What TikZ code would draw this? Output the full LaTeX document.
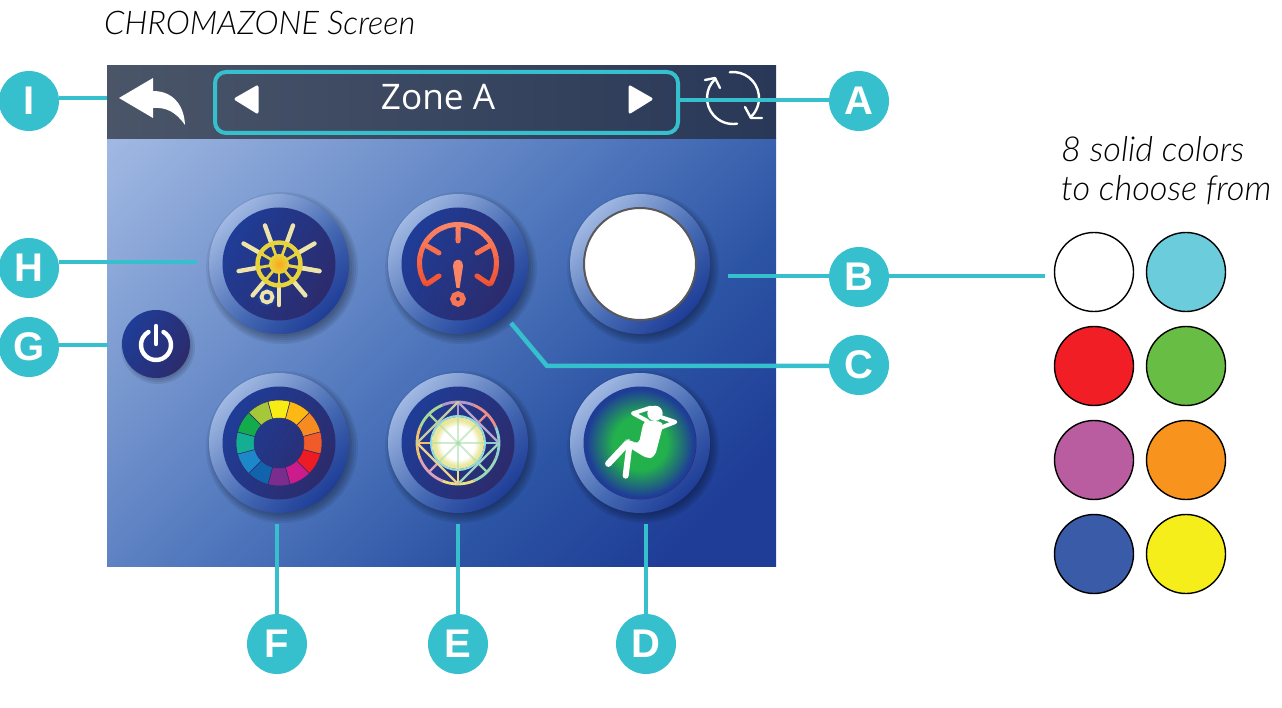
\documentclass[tikz,border=0pt]{standalone}
\usepackage{fontspec}
\setmainfont{Open Sans}
\newfontfamily\badgefont{Liberation Sans}
\newfontfamily\notefont{Lato Light}
\usetikzlibrary{positioning}

\definecolor{linkteal}{HTML}{36C0CD}
\definecolor{panelA}{HTML}{A0B8E2}
\definecolor{panelB}{HTML}{4F76BC}
\definecolor{panelC}{HTML}{2C54A4}
\definecolor{panelD}{HTML}{1F3D97}
\definecolor{ringB}{HTML}{4468B2}
\definecolor{discB}{HTML}{2C2B6C}
\definecolor{headL}{HTML}{4A5568}
\definecolor{headR}{HTML}{293858}
\definecolor{gaugeA}{HTML}{FA8566}
\definecolor{gaugeB}{HTML}{F04E2E}
\definecolor{wheelA}{HTML}{EEE4AA}
\definecolor{wheelB}{HTML}{E7D33C}
\definecolor{wheelO}{HTML}{FBA81C}
\definecolor{relaxG}{HTML}{22B14C}
\definecolor{starG}{HTML}{A8DCA8}
\definecolor{starY}{HTML}{E9E79C}
\pgfdeclarehorizontalshading{panelgrad}{100bp}{color(0bp)=(panelA); color(15bp)=(panelA); color(48bp)=(panelB); color(64bp)=(panelC); color(78bp)=(panelD); color(100bp)=(panelD)}
\pgfdeclarehorizontalshading{ringgrad}{100bp}{color(0bp)=(panelA); color(25bp)=(panelA); color(55bp)=(ringB); color(75bp)=(panelD); color(100bp)=(panelD)}
\pgfdeclarehorizontalshading{discgrad}{100bp}{color(0bp)=(panelD); color(25bp)=(panelD); color(75bp)=(discB); color(100bp)=(discB)}
\pgfdeclareradialshading{relaxgrad}{\pgfpointorigin}{color(0bp)=(relaxG); color(12bp)=(relaxG); color(24bp)=(panelD); color(50bp)=(panelD)}
\pgfdeclareradialshading{stargrad}{\pgfpointorigin}{color(0bp)=(starG); color(3bp)=(white); color(16bp)=(white); color(22bp)=(starY); color(25bp)=(starY); color(50bp)=(starY)}

\tikzset{
  badge/.style={circle,fill=linkteal,text=white,minimum size=60pt,inner sep=0pt,font=\badgefont\bfseries\fontsize{40}{44}\selectfont},
  linkline/.style={draw=linkteal,line width=4.5pt},
  swatch/.style={circle,draw=black,line width=1.4pt,minimum size=79pt,inner sep=0pt},
  note/.style={inner sep=0pt,align=left},
  whiteline/.style={draw=white,line cap=round,line join=round}
}
% shadow, ring and inner disc of one screen button
\newcommand{\hotbutton}[1]{
  \foreach \r in {66,68,...,76} \fill [black,opacity=0.07] (#1) ++(3,4) circle (\r);
  \shade [shading=ringgrad,shading angle=-45] (#1) circle (70);
  \shade [shading=discgrad,shading angle=-30] (#1) circle (56.5);
}

\begin{document}
\begin{tikzpicture}[x=1pt,y=-1pt]
\useasboundingbox (0,0) rectangle (1282,708);

% screen
\shade [shading=panelgrad,shading angle=-45] (107,139) rectangle (776,566);
\shade [left color=headL,right color=headR] (107,66) rectangle (776,139);

% buttons
\coordinate (wheelC) at (279,264);
\coordinate (gaugeC) at (458,264);
\coordinate (whiteC) at (640,264);
\coordinate (ringC) at (279,443);
\coordinate (starC) at (458,443);
\coordinate (relaxC) at (640,443);
\foreach \c in {wheelC,gaugeC,whiteC,ringC,starC,relaxC} \hotbutton{\c};

% power button
\foreach \r in {31,33,35,37} \fill [black,opacity=0.08] (156,344) ++(2,3) circle (\r);
\shade [shading=discgrad,shading angle=-30] (156,344) circle (34);
\draw [whiteline,line width=4.4pt] (156,345) ++(-60:15) arc [start angle=-60,end angle=240,radius=15];
\draw [whiteline,line width=4.4pt] (156,326) -- (156,344);

% header icons
\fill [white] (119,98) -- (153,78) -- (153,91) .. controls (172,91) and (184,104) .. (185,125) .. controls (176,112) and (166,107) .. (153,108) -- (153,118) -- cycle;
\node [text=white,font=\fontsize{35.2}{40}\selectfont,inner sep=0pt] (zoneA) at (438,97) {Zone A};
\draw [draw=linkteal,line width=4pt,rounded corners=11pt] (215,72) rectangle (678,133);
\fill [white,draw=white,line width=3pt,line join=round] (236,99) -- (257,87) -- (257,112) -- cycle;
\fill [white,draw=white,line width=3pt,line join=round] (651,99) -- (630,87) -- (630,112) -- cycle;
\draw [whiteline,line width=2.4pt] (733,98) ++(228:26) arc [start angle=228,end angle=81,radius=26];
\draw [whiteline,line width=2.4pt] (705,80) -- (715,78) -- (720,88);
\draw [whiteline,line width=2.4pt] (733,98) ++(263:26) arc [start angle=263,end angle=408,radius=26];
\draw [whiteline,line width=2.4pt] (745,107) -- (751,118) -- (762,118);

% ship wheel
\begin{scope}[shift={(279,264)}]
\foreach \a in {10,50,...,370} \draw [draw=wheelA,line width=4.4pt,line cap=round] (\a:20) -- (\a:41);
\draw [draw=wheelB,line width=4.4pt] (0,0) circle (21.5);
\foreach \a in {10,50,...,370} \draw [draw=wheelB,line width=2.8pt] (0,0) -- (\a:23);
\shade [inner color=wheelO,outer color=wheelB] (0,0) circle (10);
\fill [fill=panelD] (-12,33) circle (9.5);
\draw [draw=wheelA,line width=3.8pt] (-12,33) circle (5.5);
\end{scope}

% gauge
\begin{scope}[shift={(458,263)}]
\foreach \k [evaluate=\k as \p using 100-\k*14] in {0,...,7} {
  \begin{scope}
  \clip (-50,-42+\k*9) rectangle (50,-32.5+\k*9);
  \draw [draw=gaugeA!\p!gaugeB,line width=5pt] (146:38.5) arc [start angle=146,end angle=394,radius=38.5];
  \draw [draw=gaugeA!\p!gaugeB,line width=5pt,line cap=round] (0,-38) -- (0,-22) (-31,-17) -- (-19,-10) (31,-17) -- (19,-10) (-31,21) -- (-19,13) (31,21) -- (19,13);
  \end{scope}
}
\fill [fill=gaugeA] (-1.5,-3) .. controls (-3.5,-3) and (-5,0) .. (-5,3) -- (-1.6,25) -- (1.6,25) -- (5,3) .. controls (5,0) and (3.5,-3) .. (1.5,-3) -- cycle;
\draw [draw=gaugeA!70!gaugeB,line width=5.5pt] (0,36) circle (5);
\end{scope}

% white swatch button
\fill [white,draw=black!65,line width=2pt] (whiteC) circle (56);

% colour ring
\begin{scope}[shift={(279,443)}]
\foreach \hex [count=\i] in {F7EC13,FDB813,F68B1F,F15A29,ED1C24,CC1C8C,7B2D8E,1164AC,1C87C9,14AE92,13AC4D,A5C73A} {
  \definecolor{segcol}{HTML}{\hex}
  \pgfmathsetmacro{\s}{270-15+30*(\i-1)}
  \pgfmathsetmacro{\e}{\s+30}
  \fill [fill=segcol,draw=discB,line width=0.5pt] (\s:43) arc [start angle=\s,end angle=\e,radius=43] -- (\e:25) arc [start angle=\e,end angle=\s,radius=25] -- cycle;
}
\end{scope}

% star
\begin{scope}[shift={(458,443)}]
\foreach \a/\hex in {270/B39AC6,315/E9908C,0/8FCFD0,45/9AD8B8,90/EFDD7E,135/DFA0B8,180/F0C070,225/A8D898} {
  \definecolor{segcol}{HTML}{\hex}
  \pgfmathsetmacro{\s}{\a-22.5}
  \pgfmathsetmacro{\e}{\a+22.5}
  \draw [draw=segcol,line width=2.8pt] (\s:41) arc [start angle=\s,end angle=\e,radius=41];
  \draw [draw=segcol,line width=2.4pt] (\a:41) -- (\a:26);
}
\foreach \a/\hex in {270/B8A6CC,0/A0D4C0,90/EBCF90,180/C6CC9C} {
  \definecolor{segcol}{HTML}{\hex}
  \draw [draw=segcol,line width=2.4pt,line cap=round] (\a:41) -- (\a+90:41);
}
\draw [draw=linkteal!55!white,line width=2pt] (0,0) circle (27);
\shade [shading=stargrad] (0,0) circle (26);
\foreach \a in {0,45,...,315} \draw [draw=starG,opacity=0.55,line width=2pt] (\a:26) -- (0,0);
\end{scope}

% relax figure
\shade [shading=relaxgrad] (relaxC) circle (56);
\begin{scope}[shift={(560,360)},x=0.3333pt,y=-0.3333pt]
\fill [white] (285,160) circle (23);
\draw [whiteline,line width=4pt] (272,143) -- (219,160) -- (262,183);
\draw [whiteline,line width=4pt] (305,172) -- (346,186) -- (292,207);
\fill [white,rounded corners=5pt] (252,180) -- (312,186) -- (284,292) -- (262,296) -- (200,258) -- (195,240) -- (207,238) -- (236,254) -- cycle;
\draw [whiteline,line width=6.5pt] (202,250) -- (145,311);
\draw [whiteline,line width=6pt] (208,258) -- (197,347);
\end{scope}

% connectors and badges
\node [badge] (I) at (29,101) {I};
\node [badge] (A) at (859,101) {A};
\node [badge] (H) at (29,268) {H};
\node [badge] (G) at (29,347) {G};
\node [badge] (B) at (859,277) {B};
\node [badge] (C) at (859,365) {C};
\node [badge] (F) at (277,644) {F};
\node [badge] (E) at (458,644) {E};
\node [badge] (D) at (646,644) {D};
\coordinate (endI) at (107,98);
\coordinate (endA) at (678,100);
\coordinate (endH) at (197,262);
\coordinate (endG) at (108,345);
\coordinate (endB) at (728,276);
\coordinate (endBs) at (1045,276);
\coordinate (endC) at (511,323);
\coordinate (kneeC) at (547,366);
\coordinate (endF) at (277,524);
\coordinate (endE) at (458,524);
\coordinate (endD) at (646,524);
\draw [linkline] (I.east |- endI) -- (endI);
\draw [linkline] (endA) -- (endA -| A.west);
\draw [linkline] (H.east |- endH) -- (endH);
\draw [linkline] (G.east |- endG) -- (endG);
\draw [linkline] (endB) -- (endB -| B.west);
\draw [linkline] (endB -| B.east) -- (endBs);
\draw [linkline] (endC) -- (kneeC) -- (kneeC -| C.west);
\draw [linkline] (endF) -- (F.north);
\draw [linkline] (endE) -- (E.north);
\draw [linkline] (endD) -- (D.north);

% texts and solid colours
\node [note,anchor=west,font=\notefont\itshape\fontsize{32.6}{39}\selectfont] (title) at (104,23) {CHROMAZONE Screen};
\node [note,anchor=north west,font=\notefont\itshape\fontsize{34.4}{39}\selectfont] (solid) at (1061,136) {8 solid colors\\to choose from};
\foreach \n/\x/\y/\hex in {sw1/1094/272/FFFFFF,sw2/1186/272/6BCDDC,sw3/1094/366/F11E26,sw4/1186/366/68BD45,sw5/1094/460/B95DA0,sw6/1186/460/F8931E,sw7/1094/554/3A5BA8,sw8/1186/554/F6EE1B} {
  \definecolor{swcol}{HTML}{\hex}
  \node [swatch,fill=swcol] (\n) at (\x,\y) {};
}
\end{tikzpicture}
\end{document}
